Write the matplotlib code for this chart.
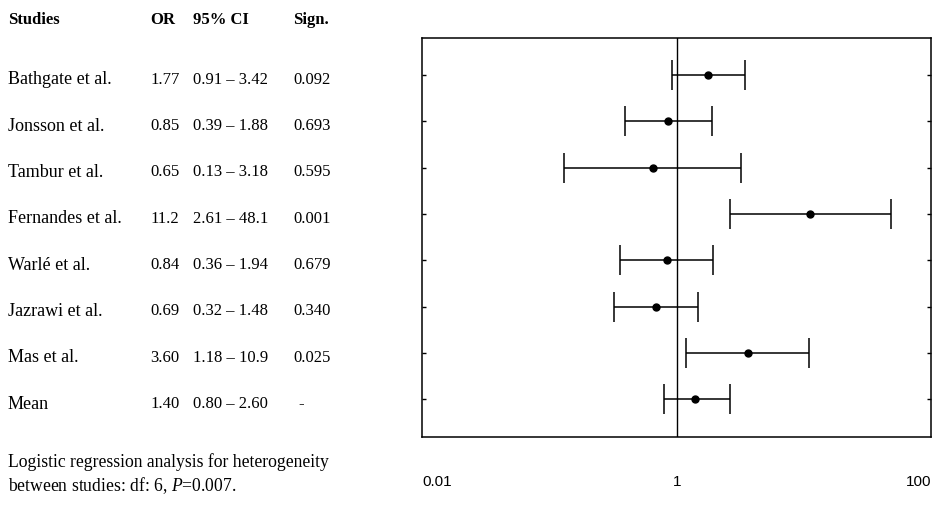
import numpy as np
import matplotlib
matplotlib.use("Agg")
import matplotlib.pyplot as plt
import matplotlib.transforms as mtransforms

plt.rcParams["font.family"] = ["Liberation Serif", "DejaVu Serif"]
plt.rcParams["mathtext.fontset"] = "custom"
plt.rcParams["mathtext.rm"] = "Liberation Serif"
plt.rcParams["mathtext.it"] = "Liberation Serif:italic"

# -------------------- datos --------------------
studies = ["Bathgate et al.", "Jonsson et al.", "Tambur et al.", "Fernandes et al.",
           "Warlé et al.", "Jazrawi et al.", "Mas et al.", "Mean"]
or_val = [1.77, 0.85, 0.65, 11.2, 0.84, 0.69, 3.60, 1.40]
ci_low = [0.91, 0.39, 0.13, 2.61, 0.36, 0.32, 1.18, 0.80]
ci_high = [3.42, 1.88, 3.18, 48.1, 1.94, 1.48, 10.9, 2.60]
or_txt = ["1.77", "0.85", "0.65", "11.2", "0.84", "0.69", "3.60", "1.40"]
ci_txt = ["0.91 – 3.42", "0.39 – 1.88", "0.13 – 3.18", "2.61 – 48.1",
          "0.36 – 1.94", "0.32 – 1.48", "1.18 – 10.9", "0.80 – 2.60"]
sign_txt = ["0.092", "0.693", "0.595", "0.001", "0.679", "0.340", "0.025", "-"]
headers = ["Studies", "OR", "95% CI", "Sign."]
xtick_vals = [0.01, 1, 100]
xtick_lbl = ["0.01", "1", "100"]
footer = ["Logistic regression analysis for heterogeneity",
          "between studies: df: 6, $\\mathit{P}$=0.007."]

W, H = 937, 517
fig = plt.figure(figsize=(W / 100, H / 100), dpi=100)
ax = fig.add_axes([422 / W, 1 - 437 / H, (931.5 - 422) / W, (437 - 38) / H])

rows = np.arange(1, len(studies) + 1)
or_arr = np.array(or_val)
err = [or_arr - np.array(ci_low), np.array(ci_high) - or_arr]

ax.errorbar(or_arr, rows, xerr=err, fmt="o", color="black", ms=5,
            elinewidth=1.1, capsize=11, capthick=1.1)
ax.axvline(1, color="black", lw=1.0, zorder=0)

ax.set_xscale("log")
ax.set_xlim(0.01, 100)
ax.set_ylim(8.81, 0.2)
ax.set_yticks(rows)
ax.tick_params(axis="y", direction="in", length=3, left=True, right=True,
               labelleft=False, width=1)
ax.set_xticks(xtick_vals)
ax.set_xticklabels(xtick_lbl, fontfamily="Liberation Sans", fontsize=11)
ax.xaxis.set_minor_locator(plt.NullLocator())
ax.tick_params(axis="x", length=0, pad=27)
labels = ax.get_xticklabels()
labels[0].set_ha("left")
labels[-1].set_ha("right")
for s in ax.spines.values():
    s.set_linewidth(1.1)

# -------------------- tabla a la izquierda --------------------
tr = mtransforms.blended_transform_factory(fig.transFigure, ax.transData)
col_x = [8 / W, 150 / W, 193 / W, 293 / W]
fs = 12
for i, r in enumerate(rows):
    y = r + 0.1
    ax.text(col_x[0], y, studies[i], transform=tr, fontsize=13, va="center", ha="left")
    ax.text(col_x[1], y, or_txt[i], transform=tr, fontsize=fs, va="center", ha="left")
    ax.text(col_x[2], y, ci_txt[i], transform=tr, fontsize=fs, va="center", ha="left")
    ax.text(col_x[3] + (5 / W if sign_txt[i] == "-" else 0), y, sign_txt[i],
            transform=tr, fontsize=fs, va="center", ha="left")

for cx, h in zip(col_x, headers):
    fig.text(cx, 1 - 20 / H, h, fontsize=fs, fontweight="bold", va="center", ha="left")

fig.text(8 / W, 1 - 462 / H, footer[0], fontsize=12.7, va="center", ha="left")
fig.text(8 / W, 1 - 486 / H, footer[1], fontsize=12.7, va="center", ha="left")

fig.savefig("out.png", dpi=100)
